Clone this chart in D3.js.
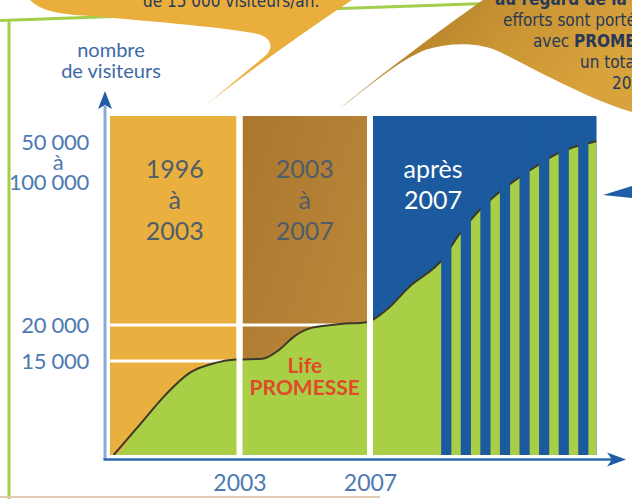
<!DOCTYPE html>
<html>
<head>
<meta charset="utf-8">
<script src="https://cdn.jsdelivr.net/npm/d3@7"></script>
<style>
html, body { margin: 0; padding: 0; background: #fff; }
svg { display: block; }
</style>
</head>
<body>
<div id="chart"></div>
<script>
// periods on the time axis (years)
const periodBounds = [1996, 2003, 2007, 2014];
const periodLabels = [["1996", "à", "2003"], ["2003", "à", "2007"], ["après", "2007"]];
const periodLabelYears = [1999.5, 2005, 2008.95];
const xTickValues = [2003, 2007];

// visitors axis (drawn piecewise, like the original)
const visitorLevels = [0, 15000, 20000, 50000, 100000];
const yTickValues = [15000, 20000, 75000];
const yTickLabels = [["15 000"], ["20 000"], ["50 000", "à", "100 000"]];
const guideValues = [15000, 20000];

// visitor curve
const curveYears = [1996.2, 1997.6, 1999.0, 2000.3, 2001.7, 2002.8, 2003.7, 2004.2, 2004.7, 2005.2,
    2006.1, 2006.9, 2007.5, 2008.2, 2009.3, 2009.7, 2010.3, 2010.9, 2011.5, 2012.1, 2012.7,
    2013.3, 2013.9, 2014];
const curveVisitors = [0, 4800, 9600, 13100, 14700, 15200, 15300, 16500, 18500, 19600,
    20200, 20600, 23200, 28100, 34600, 38900, 44000, 47900, 55600, 70000, 83300,
    92200, 97800, 98900];

// growth stripes after 2007
const stripeCount = 8;
const stripeSpan = [2009.2, 2013.75];

// bubble texts (cut by the page edge)
const leftBubbleLines = ["de 15 000 visiteurs/an."];
const rightBubbleLines = [["au regard de la", true], ["efforts sont portés", false], ["avec ", false, "PROMESSE"],
    ["un total de", false], ["2008", false]];

const colors = {
    gold: "#e9b03f",
    brownA: "#ab772f",
    brownB: "#bf8b3d",
    blue: "#1b5a9e",
    green: "#a9cf46",
    curve: "#3b3a27",
    axis: "#86aad3",
    axisDark: "#2d66ab",
    arrow: "#1f5da4",
    label: "#4d7ab2",
    period: "#4f5d69",
    red: "#e0492b",
    frame: "#a4cf4c",
    bubble: "#e9ae3c",
    bubble2A: "#c99433",
    bubble2B: "#a57627",
    bubbleText: "#27385a"
};

/**
 * Visitors chart: time periods as coloured zones, the visitors curve on top.
 */
class VisitorsChart {
    constructor (options) {
        this.width = options.width;
        this.height = options.height;
        this.plot = options.plot;

        this.svg = d3.select(options.container).append("svg")
            .attr("width", this.width)
            .attr("height", this.height)
            .style("font-family", "Lato, 'Open Sans', sans-serif");

        this.x = d3.scaleLinear().domain(periodBounds).range(this.plot.xStops);
        this.y = d3.scaleLinear().domain(visitorLevels).range(this.plot.yStops);
        this.data = curveYears.map((year, i) => ({year: year, visitors: curveVisitors[i]}));
    }

    render () {
        this._defs();
        this.addFrame();
        this.addBubbles();
        this.addZones();
        this.addCurve();
        this.addSeparators();
        this.addAxes();
        this.addLabels();
        return this;
    }

    _defs () {
        var defs = this.svg.append("defs");
        var g1 = defs.append("linearGradient").attr("id", "brownZone")
            .attr("x1", 0).attr("y1", 0).attr("x2", 1).attr("y2", 1);
        g1.append("stop").attr("offset", 0).attr("stop-color", colors.brownA);
        g1.append("stop").attr("offset", 1).attr("stop-color", colors.brownB);

        var g2 = defs.append("linearGradient").attr("id", "bubble2")
            .attr("x1", 0).attr("y1", 0).attr("x2", 1).attr("y2", 0.3);
        g2.append("stop").attr("offset", 0).attr("stop-color", colors.bubble2B);
        g2.append("stop").attr("offset", 0.6).attr("stop-color", colors.bubble2A);
        g2.append("stop").attr("offset", 1).attr("stop-color", "#d8a23c");

        defs.append("clipPath").attr("id", "plotClip")
            .append("rect")
            .attr("x", this.x(periodBounds[0]))
            .attr("y", this.plot.top)
            .attr("width", this.x(periodBounds[3]) - this.x(periodBounds[0]))
            .attr("height", this.y(0) - this.plot.top);
    }

    addFrame () {
        var frame = this.svg.append("g").attr("class", "frame");
        frame.append("line")
            .attr("x1", 9).attr("x2", 9).attr("y1", 20).attr("y2", this.height)
            .attr("stroke", colors.frame).attr("stroke-width", 3);
        // top edge runs slightly upward to the right
        frame.append("line")
            .attr("x1", 0).attr("x2", 500).attr("y1", 20.5).attr("y2", 3)
            .attr("stroke", colors.frame).attr("stroke-width", 3);
        frame.append("line")
            .attr("x1", 0).attr("x2", 380).attr("y1", 497).attr("y2", 497)
            .attr("stroke", "#e4ccb4").attr("stroke-width", 2);
    }

    addBubbles () {
        var g = this.svg.append("g").attr("class", "bubbles");

        g.append("path")
            .attr("d", "M30,0 C40,10 55,14 90,16 C160,22 230,28 258,34 C272,38 274,48 265,56 " +
                "L200,110 C250,70 300,35 352,0 Z")
            .attr("fill", colors.bubble);

        g.append("path")
            .attr("d", "M483,0 C440,30 380,75 338,110 C370,85 400,60 425,50 C450,42 480,42 500,52 " +
                "C540,72 590,100 632,112 L632,0 Z")
            .attr("fill", "url(#bubble2)");

        // pointer of a bubble that sits outside the picture
        g.append("path")
            .attr("d", "M603,195 L632,186 L632,198 Z")
            .attr("fill", colors.arrow);

        g.append("text")
            .attr("x", 143).attr("y", 7)
            .style("font-family", "'DejaVu Sans Condensed', 'DejaVu Sans', sans-serif")
            .style("font-size", "17px")
            .attr("fill", colors.bubbleText)
            .text(leftBubbleLines[0]);

        var rightText = g.append("g")
            .style("font-family", "'DejaVu Sans Condensed', 'DejaVu Sans', sans-serif")
            .style("font-size", "17px")
            .attr("fill", colors.bubbleText);
        var starts = [495, 503, 533, 580, 612];
        rightBubbleLines.forEach((line, i) => {
            var t = rightText.append("text").attr("x", starts[i]).attr("y", 5 + i * 21);
            t.append("tspan").attr("font-weight", line[1] ? "bold" : "normal").text(line[0]);
            if (line[2]) t.append("tspan").attr("font-weight", "bold").text(line[2]);
        });
    }

    addZones () {
        var x = this.x, top = this.plot.top, bottom = this.y(0), gap = this.plot.gap;
        var fills = [colors.gold, "url(#brownZone)", colors.blue];

        this.svg.append("g").attr("class", "zones")
            .selectAll("rect")
            .data(d3.range(periodBounds.length - 1))
            .join("rect")
            .attr("x", i => x(periodBounds[i]) + (i > 0 ? gap / 2 : 0))
            .attr("width", i => x(periodBounds[i + 1]) - x(periodBounds[i])
                - (i > 0 ? gap / 2 : 0) - (i < periodBounds.length - 2 ? gap / 2 : 0))
            .attr("y", top)
            .attr("height", bottom - top)
            .attr("fill", i => fills[i]);

        // white guide lines at 15 000 / 20 000
        this.svg.append("g").attr("class", "guides")
            .selectAll("line")
            .data(guideValues)
            .join("line")
            .attr("x1", x(periodBounds[0]))
            .attr("x2", x(periodBounds[2]))
            .attr("y1", d => this.y(d))
            .attr("y2", d => this.y(d))
            .attr("stroke", "#fff")
            .attr("stroke-width", 3);
    }

    addCurve () {
        var x = this.x, y = this.y;
        var layer = this.svg.append("g").attr("clip-path", "url(#plotClip)");

        var area = d3.area()
            .x(d => x(d.year))
            .y0(y(0))
            .y1(d => y(d.visitors))
            .curve(d3.curveMonotoneX);

        var line = d3.line()
            .x(d => x(d.year))
            .y(d => y(d.visitors))
            .curve(d3.curveMonotoneX);

        layer.append("path")
            .datum([{year: periodBounds[0], visitors: 0}].concat(this.data))
            .attr("d", area)
            .attr("fill", colors.green);

        layer.append("path")
            .datum(this.data)
            .attr("d", line)
            .attr("fill", "none")
            .attr("stroke", colors.curve)
            .attr("stroke-width", 2);

        // blue stripes cut through the growth area
        var band = d3.scaleBand()
            .domain(d3.range(stripeCount))
            .range([x(stripeSpan[0]), x(stripeSpan[1])])
            .paddingInner(0.48)
            .paddingOuter(0);

        layer.append("g").attr("class", "stripes")
            .selectAll("rect")
            .data(band.domain())
            .join("rect")
            .attr("x", d => band(d))
            .attr("width", band.bandwidth())
            .attr("y", this.plot.top)
            .attr("height", y(0) - this.plot.top)
            .attr("fill", colors.blue);
    }

    addSeparators () {
        var x = this.x;
        this.svg.append("g").attr("class", "separators")
            .selectAll("rect")
            .data(periodBounds.slice(1, -1))
            .join("rect")
            .attr("x", d => x(d) - this.plot.gap / 2)
            .attr("width", this.plot.gap)
            .attr("y", this.plot.top)
            .attr("height", this.y(0) - this.plot.top)
            .attr("fill", "#fff");
    }

    addAxes () {
        var axisY = this.y(0) + 4.5, axisX = this.x(periodBounds[0]) - 5;

        // vertical axis line + arrow
        this.svg.append("line")
            .attr("x1", axisX).attr("x2", axisX)
            .attr("y1", 106).attr("y2", axisY)
            .attr("stroke", colors.axis).attr("stroke-width", 3);
        this.svg.append("path")
            .attr("d", `M${axisX},91 L${axisX + 7},109 L${axisX},105 L${axisX - 7},109 Z`)
            .attr("fill", colors.arrow);

        // horizontal axis line + arrow
        this.svg.append("line")
            .attr("x1", axisX - 1.5).attr("x2", 612)
            .attr("y1", axisY).attr("y2", axisY)
            .attr("stroke", colors.axisDark).attr("stroke-width", 2.5);
        this.svg.append("path")
            .attr("d", `M626,${axisY} L607,${axisY - 7} L612,${axisY} L607,${axisY + 7} Z`)
            .attr("fill", colors.arrow);

        // year ticks
        var xAxis = this.svg.append("g")
            .attr("transform", `translate(0,${axisY})`)
            .call(d3.axisBottom(this.x).tickValues(xTickValues).tickFormat(d3.format("d"))
                .tickSize(0).tickPadding(15));
        xAxis.select(".domain").remove();
        xAxis.selectAll("text")
            .attr("fill", colors.label)
            .style("font-family", "Lato, sans-serif")
            .style("font-size", "23px");

        // visitor ticks (some span several lines)
        var yAxis = this.svg.append("g")
            .attr("transform", "translate(89,0)")
            .call(d3.axisLeft(this.y).tickValues(yTickValues).tickFormat(() => "")
                .tickSize(0).tickPadding(0));
        yAxis.select(".domain").remove();
        yAxis.selectAll("text").each(function (d, i) {
            var lines = yTickLabels[i];
            var t = d3.select(this)
                .attr("dy", null)
                .attr("fill", colors.label)
                .style("font-family", "Lato, sans-serif")
                .style("font-size", "22px")
                .style("letter-spacing", "-0.3px");
            var off = (lines.length - 1) / 2;
            lines.forEach((s, k) => {
                var span = t.append("tspan")
                    .attr("x", 0)
                    .attr("y", (k - off) * 20 + 7)
                    .text(s);
                if (s === "à") span.attr("x", -31).attr("text-anchor", "middle");
            });
        });
    }

    addLabels () {
        var x = this.x;
        var title = this.svg.append("text")
            .attr("text-anchor", "middle")
            .attr("fill", "#3d6aa6")
            .style("font-size", "20px");
        title.append("tspan").attr("x", 111).attr("y", 57).text("nombre");
        title.append("tspan").attr("x", 111).attr("y", 78).text("de visiteurs");

        var groups = this.svg.append("g").attr("class", "period-labels")
            .selectAll("text")
            .data(periodLabels)
            .join("text")
            .attr("text-anchor", "middle")
            .attr("fill", (d, i) => i === 2 ? "#fff" : colors.period)
            .style("font-size", "25px");
        groups.each(function (lines, i) {
            lines.forEach((s, k) => {
                d3.select(this).append("tspan")
                    .attr("x", x(periodLabelYears[i]))
                    .attr("y", 178 + k * 31)
                    .text(s);
            });
        });

        var life = this.svg.append("text")
            .attr("text-anchor", "middle")
            .attr("fill", colors.red)
            .attr("font-weight", "bold")
            .style("font-size", "21px");
        life.append("tspan").attr("x", x(periodLabelYears[1])).attr("y", 373).text("Life");
        life.append("tspan").attr("x", x(periodLabelYears[1])).attr("y", 395).text("PROMESSE");
    }
}

new VisitorsChart({
    container: "#chart",
    width: 632,
    height: 499,
    plot: {
        top: 116,
        gap: 6,
        xStops: [110, 239.5, 370, 596.5],
        yStops: [455, 361, 325, 185, 140]
    }
}).render();
</script>
</body>
</html>
